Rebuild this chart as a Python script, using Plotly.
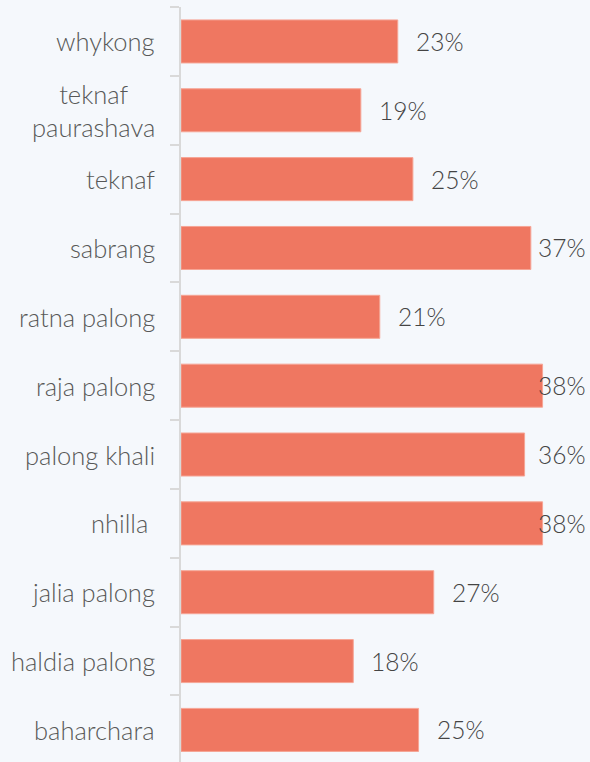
import plotly.graph_objects as go

categories = ["whykong", "teknaf<br>paurashava", "teknaf", "sabrang", "ratna palong",
              "raja palong", "palong khali", "nhilla\u00a0", "jalia palong", "haldia palong", "baharchara"]
values = [22.9, 19.0, 24.5, 36.96, 21.0, 38.2, 36.3, 38.2, 26.7, 18.2, 25.1]
labels = ["23%", "19%", "25%", "37%", "21%", "38%", "36%", "38%", "27%", "18%", "25%"]

X_MAX = 43.0
BAR_COLOR = "#EF7761"
BG = "#F5F8FC"
AXIS_COLOR = "#D9D9D9"
FONT = "Lato, 'Open Sans', sans-serif"

fig = go.Figure()
fig.add_trace(go.Bar(
    y=categories, x=values, orientation="h",
    marker=dict(color=BAR_COLOR, line=dict(color="#F6A595", width=1)),
    hoverinfo="skip",
))

annotations = []
# category labels (centered multi-line)
for c in categories:
    annotations.append(dict(
        xref="paper", x=0, xshift=-24, xanchor="right",
        yref="y", y=c, yanchor="middle",
        text=c, showarrow=False, align="center",
        font=dict(family=FONT, size=25.5, color="#585858", weight=300),
    ))
# value labels
plot_w = 407
scale_px = plot_w / X_MAX
for c, v, t in zip(categories, values, labels):
    text_w = 47
    if v * scale_px + 17 + text_w > plot_w:
        annotations.append(dict(xref="x", x=X_MAX, xshift=0, xanchor="right",
                                yref="y", y=c, yanchor="middle", text=t, showarrow=False,
                                font=dict(family=FONT, size=24.5, color="#444444", weight=300)))
    else:
        annotations.append(dict(xref="x", x=v, xshift=16, xanchor="left",
                                yref="y", y=c, yanchor="middle", text=t, showarrow=False,
                                font=dict(family=FONT, size=24.5, color="#444444", weight=300)))

n = len(categories)
fig.update_layout(
    width=590, height=762,
    margin=dict(l=181, r=2, t=7, b=0),
    paper_bgcolor=BG, plot_bgcolor=BG,
    bargap=0.375,
    showlegend=False,
    annotations=annotations,
    xaxis=dict(range=[0, X_MAX], visible=False, fixedrange=True),
    yaxis=dict(
        range=[n - 0.534, -0.5],
        showticklabels=False,
        showline=True, linecolor=AXIS_COLOR, linewidth=2,
        ticks="outside", tickson="boundaries", ticklen=9, tickcolor=AXIS_COLOR, tickwidth=2,
        showgrid=False, zeroline=False, fixedrange=True,
    ),
)

fig.write_html("out.html", config={"displayModeBar": False},
               post_script="document.body.style.margin='0';document.body.style.background='#F5F8FC';")
